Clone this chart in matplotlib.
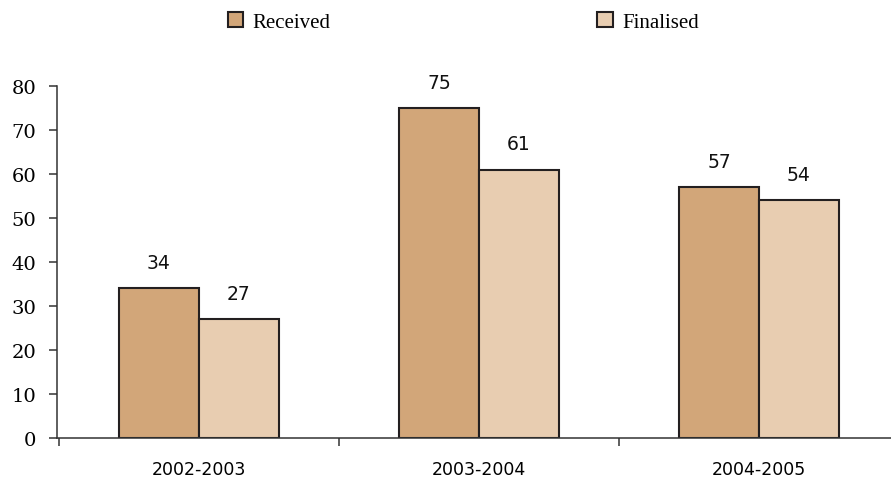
import matplotlib.pyplot as plt
import numpy as np

# Matters received and finalised per financial year
years = ["2002-2003", "2003-2004", "2004-2005"]
received = [34, 75, 57]
finalised = [27, 61, 54]

series_names = ["Received", "Finalised"]
colors = ["#D2A679", "#E8CDB1"]
edge = "#231F20"

fig = plt.figure(figsize=(8.91, 4.85), dpi=100)
ax = fig.add_axes([57 / 891, 1 - 439 / 485, 842 / 891, 352 / 485])

x = np.arange(len(years))
w = 80 / 280

b1 = ax.bar(x - w / 2, received, w, color=colors[0], edgecolor=edge,
            linewidth=1.5, label=series_names[0])
b2 = ax.bar(x + w / 2, finalised, w, color=colors[1], edgecolor=edge,
            linewidth=1.5, label=series_names[1])

# value labels above each bar
for bars, vals in [(b1, received), (b2, finalised)]:
    for rect, v in zip(bars, vals):
        ax.annotate(str(v), (rect.get_x() + rect.get_width() / 2, v),
                    xytext=(0, 18.5), textcoords="offset points",
                    ha="center", va="center", fontsize=13.5,
                    family="DejaVu Sans", color="#111111")

x0 = -0.5 - 2 / 280
ax.set_xlim(x0, x0 + 842 / 280)
ax.set_ylim(0, 80)
ax.set_yticks(range(0, 81, 10))

ax.set_xticks(x)
ax.set_xticklabels(years, family="DejaVu Sans", fontsize=12.5)
ax.set_xticks(np.arange(-0.5, 3, 1), minor=True)
ax.tick_params(axis="x", which="major", length=0, pad=16)
ax.tick_params(axis="x", which="minor", length=6, width=1.1,
               direction="out", color="#333333")
ax.tick_params(axis="y", length=6, width=1.1, pad=9, color="#333333",
               labelsize=14)
for lbl in ax.get_yticklabels():
    lbl.set_family("DejaVu Serif")

for s in ["top", "right"]:
    ax.spines[s].set_visible(False)
for s in ["left", "bottom"]:
    ax.spines[s].set_color("#333333")
    ax.spines[s].set_linewidth(1.1)

fig.legend(handles=[b1, b2], labels=series_names, loc="center left",
           bbox_to_anchor=(209 / 891, 1 - 23 / 485), ncol=2, frameon=False,
           handlelength=0.75, handleheight=0.75, handletextpad=0.45,
           columnspacing=12.8, prop={"family": "Liberation Serif", "size": 15})

fig.savefig("out.png", dpi=100)
